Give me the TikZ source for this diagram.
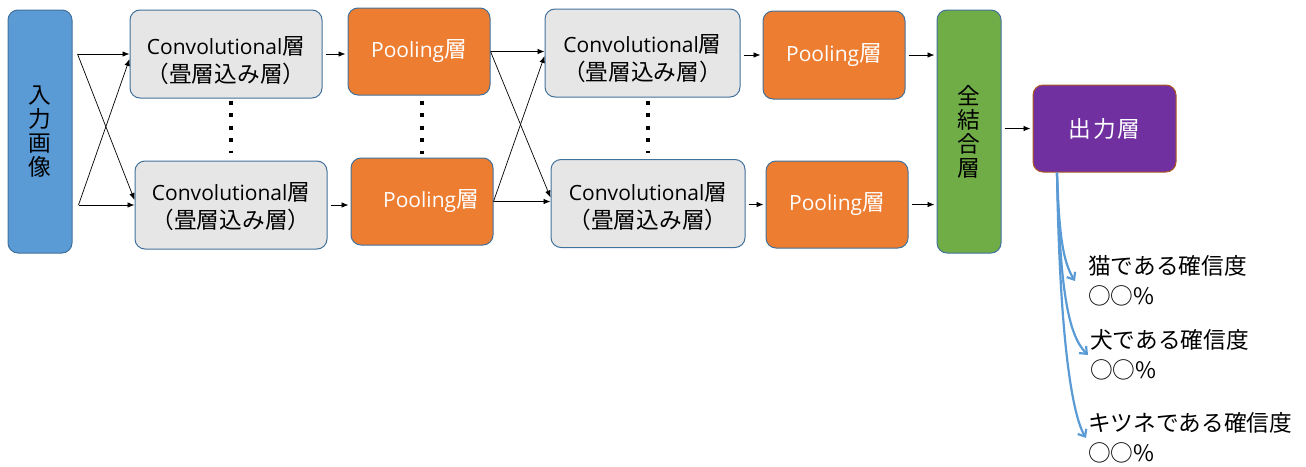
\documentclass[tikz,border=0pt]{standalone}
\usepackage{fontspec}
\setmainfont{Noto Sans CJK JP}[Scale=1.08]
\newfontfamily\latin{Open Sans}
\usetikzlibrary{arrows.meta}

\definecolor{inblue}{HTML}{5B9BD5}
\definecolor{edgeblue}{HTML}{41719C}
\definecolor{convgray}{HTML}{E7E6E6}
\definecolor{poolorange}{HTML}{ED7D31}
\definecolor{fcgreen}{HTML}{70AD47}
\definecolor{outpurple}{HTML}{7030A0}
\definecolor{outedge}{HTML}{AE5A21}

% text of a convolution box, #1 = height of the first line
\newcommand\convlabel[1]{\rule{0pt}{#1}{\latin Convolutional}層\\（畳層込み層）}

\begin{document}
\begin{tikzpicture}[x=1pt,y=-1pt,
    font=\fontsize{21}{24}\selectfont,
    layer/.style={draw=edgeblue,line width=1pt,rounded corners=10pt,align=center,inner sep=0pt},
    tall/.style={layer,minimum width=64pt,minimum height=243pt},
    conv/.style={layer,fill=convgray,minimum width=192pt,minimum height=88pt,font=\fontsize{21}{28}\selectfont},
    pool/.style={layer,fill=poolorange,text=white,minimum width=142pt,minimum height=87pt},
    arr/.style={-{Latex[length=7pt,width=5.5pt]},line width=0.7pt},
    hop/.style={arr,shorten <=3pt,shorten >=2pt},
    vdots/.style={line width=4pt,dash pattern=on 4pt off 8.5pt},
    prob/.style={-{Straight Barb[length=6pt,width=10pt]},inblue,line width=2.2pt},
    result/.style={anchor=west,align=left,inner xsep=2pt,inner ysep=0pt,font=\fontsize{21}{30}\selectfont}]
    \useasboundingbox (0,0) rectangle (1306,466);

    % layers
    \node[tall,fill=inblue] (img) at (40,131.5) {入\\力\\画\\像};
    \node[conv] (c1a) at (226,54) {\convlabel{31pt}};
    \node[conv] (c1b) at (231,205) {\convlabel{22pt}};
    \node[pool] (p1a) at (419,51.5) {{\latin Pooling}層};
    \node[pool] (p1b) at (422,201.5) {\hspace*{18pt}{\latin Pooling}層};
    \node[conv,minimum width=195pt] (c2a) at (642.5,53) {\convlabel{30pt}};
    \node[conv,minimum width=194pt] (c2b) at (648,203.5) {\convlabel{24pt}};
    \node[pool,minimum height=88pt] (p2a) at (834,55) {{\latin Pooling}層};
    \node[pool] (p2b) at (837,204.5) {{\latin Pooling}層};
    \node[tall,fill=fcgreen] (fc) at (969,131.5) {全\\結\\合\\層};
    \node[layer,draw=outedge,fill=outpurple,text=white,minimum width=143pt,minimum height=87pt] (out) at (1104.5,128.5) {出\hspace{2pt}力\hspace{2pt}層};

    % results
    \node[result] (cat) at (1086,281) {猫である確信度\\○○\%};
    \node[result] (dog) at (1088,355) {犬である確信度\\○○\%};
    \node[result] (fox) at (1086,438) {キツネである確信度\\○○\%};

    % input to first convolution
    \coordinate[xshift=5pt] (in1) at (img.east |- c1a.west);
    \coordinate[xshift=6pt] (in2) at (img.east |- c1b.west);
    \draw[arr] (in1) -- (c1a.west);
    \draw[arr] (in1) -- ([yshift=5pt]c1b.west);
    \draw[arr] (in2) -- (c1b.west);
    \draw[arr] (in2) -- ([yshift=-5pt]c1a.west);

    \draw[hop] (c1a.east) -- (c1a.east -| p1a.west);
    \draw[hop] (c1b.east) -- (c1b.east -| p1b.west);

    \draw[arr] (p1a.east) -- (p1a.east -| c2a.west);
    \draw[arr] (p1a.east) -- ([yshift=6pt]c2b.west);
    \draw[arr] (p1b.east) -- (p1b.east -| c2b.west);
    \draw[arr] (p1b.east) -- ([yshift=-3pt]c2a.west);

    \draw[hop] (c2a.east |- p2a.west) -- (p2a.west);
    \draw[hop] (c2b.east |- p2b.west) -- (p2b.west);
    \draw[hop] (p2a.east) -- (p2a.east -| fc.west);
    \draw[hop] (p2b.east) -- (p2b.east -| fc.west);
    \draw[hop] (fc.east |- out.west) -- (out.west);

    % dots between the rows
    \draw[vdots,shorten <=2pt,shorten >=8pt] (c1b.north |- c1a.south) -- (c1b.north);
    \draw[vdots,shorten <=5pt,shorten >=4pt] (p1b.north |- p1a.south) -- (p1b.north);
    \draw[vdots,shorten <=3pt,shorten >=6pt] (c2b.north |- c2a.south) -- (c2b.north);

    % output probabilities
    \coordinate (fan) at ([xshift=-47.5pt]out.south);
    \draw[prob] (fan) .. controls (1059,235) and (1063,262) .. ([xshift=-11pt]cat.west);
    \draw[prob] (fan) .. controls (1060,290) and (1068,335) .. (dog.west);
    \draw[prob] (fan) .. controls (1060,360) and (1075,420) .. (fox.west);
\end{tikzpicture}
\end{document}
